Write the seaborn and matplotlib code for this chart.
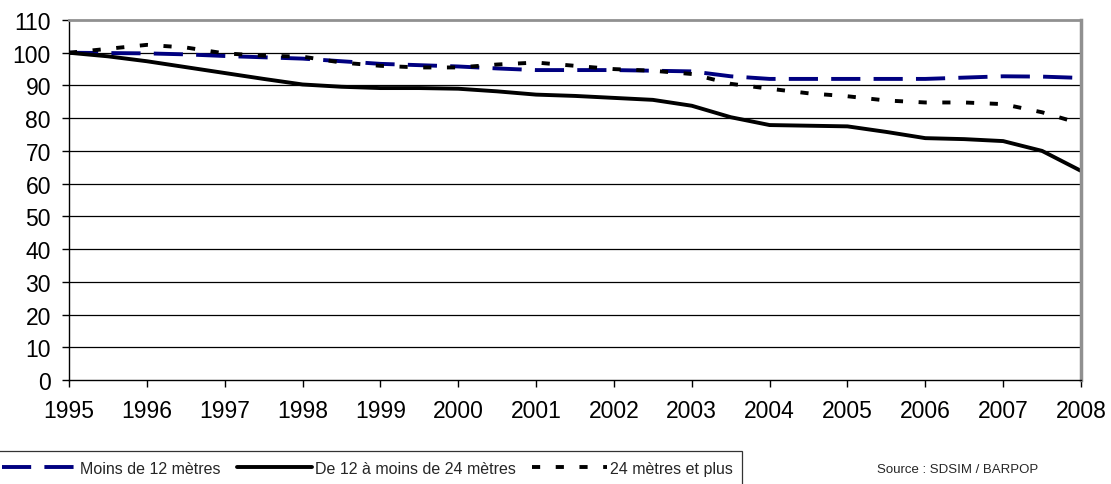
import matplotlib
matplotlib.use("Agg")
import matplotlib.pyplot as plt
import seaborn as sns
import pandas as pd

years = [1995.0, 1995.5, 1996.0, 1996.5, 1997.0, 1997.5, 1998.0, 1998.5, 1999.0, 1999.5,
         2000.0, 2000.5, 2001.0, 2001.5, 2002.0, 2002.5, 2003.0, 2003.5, 2004.0, 2004.5,
         2005.0, 2005.5, 2006.0, 2006.5, 2007.0, 2007.5, 2008.0]

moins_12 = [100.0, 99.9, 99.8, 99.5, 99.0, 98.6, 98.2, 97.4, 96.6, 96.2,
            95.8, 95.2, 94.7, 94.7, 94.7, 94.5, 94.3, 92.8, 92.0, 92.0,
            92.0, 92.0, 92.0, 92.4, 92.8, 92.7, 92.3]

de_12_a_24 = [100.0, 98.9, 97.4, 95.6, 93.8, 92.0, 90.3, 89.6, 89.2, 89.2,
              89.0, 88.2, 87.2, 86.8, 86.2, 85.6, 83.8, 80.3, 77.9, 77.7,
              77.5, 75.8, 73.9, 73.6, 73.0, 70.0, 63.9]

plus_24 = [100.0, 101.2, 102.4, 101.6, 99.8, 99.1, 98.8, 97.0, 96.0, 95.5,
           95.5, 96.4, 97.0, 96.0, 95.0, 94.5, 93.5, 90.5, 89.0, 87.6,
           86.7, 85.4, 84.8, 84.8, 84.3, 81.8, 78.3]

series_names = ["Moins de 12 mètres", "De 12 à moins de 24 mètres", "24 mètres et plus"]
year_ticks = list(range(1995, 2009))
y_ticks = list(range(0, 111, 10))

sns.set_style("white")
plt.rcParams['font.family'] = ['Liberation Sans', 'DejaVu Sans']

fig = plt.figure(figsize=(11.11, 4.85), dpi=100)
ax = fig.add_axes([69/1111, 1-381/485, (1081-69)/1111, (381-21)/485])

df = pd.DataFrame({"year": years, series_names[0]: moins_12,
                   series_names[1]: de_12_a_24, series_names[2]: plus_24})

styles = {
    series_names[0]: dict(color="#000080", linestyle=(0, (7.5, 3.4))),
    series_names[1]: dict(color="black", linestyle="-"),
    series_names[2]: dict(color="black", linestyle=(0, (2.1, 4.0))),
}
for name in series_names:
    sns.lineplot(data=df, x="year", y=name, ax=ax, label=name,
                 linewidth=2.8, **styles[name])

ax.set_xlim(1995, 2008)
ax.set_ylim(0, 110)
ax.set_xticks(year_ticks)
ax.set_xticklabels([str(y) for y in year_ticks], fontsize=16.5)
ax.set_yticks(y_ticks)
ax.set_yticklabels([str(v) for v in y_ticks], fontsize=16.5)
ax.set_xlabel("")
ax.set_ylabel("")

for v in y_ticks[1:-1]:
    ax.axhline(v, color="black", linewidth=0.9, zorder=0)

ax.spines["left"].set_color("black")
ax.spines["bottom"].set_color("black")
ax.spines["left"].set_linewidth(1.0)
ax.spines["bottom"].set_linewidth(1.0)
ax.spines["top"].set_color("#909090")
ax.spines["right"].set_color("#909090")
ax.spines["top"].set_linewidth(2.0)
ax.spines["right"].set_linewidth(2.5)

ax.tick_params(axis="both", which="both", direction="out", length=5, width=1,
               color="black", labelcolor="black", bottom=True, left=True)
ax.tick_params(axis="x", pad=9)
ax.tick_params(axis="y", pad=8)

ax.get_legend().remove()
handles, labels = ax.get_legend_handles_labels()
leg = fig.legend(handles, labels, loc="upper left", bbox_to_anchor=(-0.007, 1-452/485),
                 ncol=3, frameon=True, fancybox=False, edgecolor="black",
                 fontsize=11.5, handlelength=4.7, handletextpad=0.2, columnspacing=1.0,
                 borderpad=0.6, borderaxespad=0.0)
leg.get_frame().set_linewidth(0.9)

fig.text(877/1111, 1-470/485, "Source : SDSIM / BARPOP", fontsize=9.5,
         va="center", ha="left")

fig.savefig("out.png", dpi=100)
